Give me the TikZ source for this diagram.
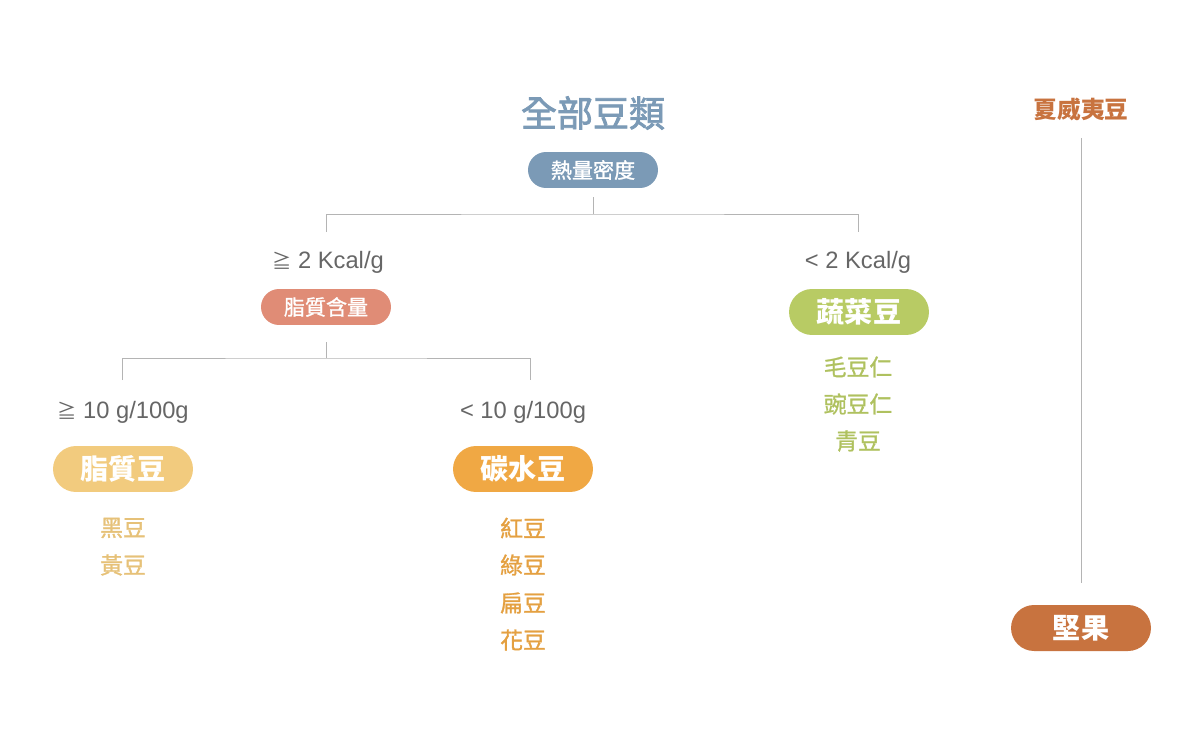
\documentclass[tikz,border=0pt]{standalone}
\usepackage{fontspec}
\setmainfont{Liberation Sans}
\newfontfamily\cjk{Noto Sans CJK TC}
\newfontfamily\cjkmid[FakeBold=1.2]{Noto Sans CJK TC}
\newfontfamily\cjktitle[FakeBold=2.2]{Noto Sans CJK TC}
\definecolor{titleblue}{HTML}{7B9AB6}
\definecolor{salmon}{HTML}{E08C76}
\definecolor{fatbean}{HTML}{F2CB7E}
\definecolor{carbbean}{HTML}{F0A844}
\definecolor{vegbean}{HTML}{B8CB64}
\definecolor{nutbrown}{HTML}{C8733F}
\definecolor{rulegray}{HTML}{B4B4B4}
\definecolor{txtgray}{HTML}{666666}
\tikzset{
  pill/.style={fill=#1,text=white,rounded corners=0.36cm,minimum width=2.6cm,minimum height=0.72cm,inner sep=0pt,font=\cjkmid\fontsize{12}{12}\selectfont},
  bigpill/.style={fill=#1,text=white,rounded corners=0.46cm,minimum width=2.8cm,minimum height=0.92cm,inner sep=0pt,font=\cjk\bfseries\fontsize{16}{16}\selectfont},
  cond/.style={text=txtgray,inner sep=0pt,font=\fontsize{13.5}{13.5}\selectfont},
  item/.style={text=#1,inner sep=0pt,font=\cjkmid\fontsize{13}{13}\selectfont},
  link/.style={draw=rulegray,line width=0.55pt}
}
\begin{document}
\begin{tikzpicture}[x=0.02cm,y=-0.02cm]
\useasboundingbox (0,0) rectangle (1200,750);

\node[text=titleblue,inner sep=0pt,font=\cjktitle\fontsize{20.5}{20.5}\selectfont] (all) at (593,113) {全部豆類};
\node[pill=titleblue] (heat) at (593,170) {熱量密度};

\node[cond] (hiKcal) at (328,262) {{\cjk\fontsize{11}{11}\selectfont ≧} 2 Kcal/g};
\node[cond] (loKcal) at (858,262) {< 2 Kcal/g};
\node[pill=salmon] (fat) at (326,307) {脂質含量};
\node[bigpill=vegbean] (veg) at (859,312) {蔬菜豆};

\node[cond] (hiFat) at (123,412) {{\cjk\fontsize{11}{11}\selectfont ≧} 10 g/100g};
\node[cond] (loFat) at (523,412) {< 10 g/100g};
\node[bigpill=fatbean] (fatBean) at (123,469) {脂質豆};
\node[bigpill=carbbean] (carbBean) at (523,469) {碳水豆};

\node[item=fatbean!95!black] (black) at (123,528) {黑豆};
\node[item=fatbean!95!black] (yellow) at (123,565) {黃豆};
\node[item=carbbean!95!black] (red) at (523,528) {紅豆};
\node[item=carbbean!95!black] (mung) at (523,565) {綠豆};
\node[item=carbbean!95!black] (lablab) at (523,603) {扁豆};
\node[item=carbbean!95!black] (pinto) at (523,640) {花豆};
\node[item=vegbean!95!black] (edamame) at (858,367) {毛豆仁};
\node[item=vegbean!95!black] (pea) at (858,404) {豌豆仁};
\node[item=vegbean!95!black] (green) at (858,441) {青豆};

\node[text=nutbrown,inner sep=0pt,font=\cjk\bfseries\fontsize{13.5}{13.5}\selectfont] (mac) at (1081,109) {夏威夷豆};
\node[bigpill=nutbrown] (nut) at (1081,628) {堅果};

\coordinate (barA) at (593,214);
\coordinate (barB) at (326,358);
\draw[link] ([yshift=-0.18cm]heat.south) -- (barA);
\draw[link] (326,232) |- (barA) -| (858,232);
\draw[link] ([yshift=-0.34cm]fat.south) -- (barB);
\draw[link] (122,380) |- (barB) -| (530,380);
\draw[link,shorten <=0.34cm,shorten >=0.44cm] (mac) -- (nut);
\end{tikzpicture}
\end{document}
